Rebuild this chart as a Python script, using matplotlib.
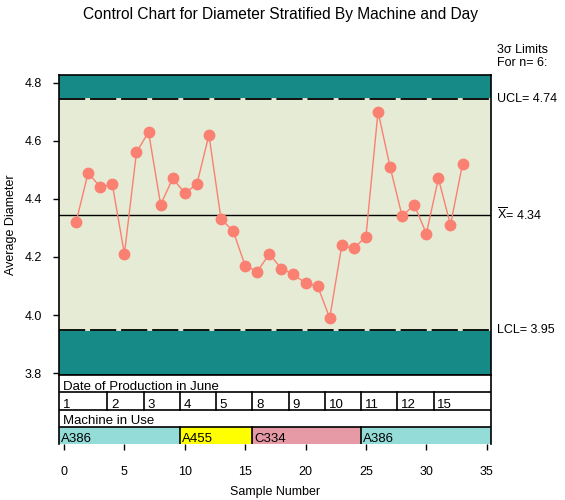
import matplotlib
matplotlib.use('Agg')
import matplotlib.pyplot as plt
import numpy as np

plt.rcParams['font.family'] = ['Liberation Sans', 'DejaVu Sans']
plt.rcParams['mathtext.fontset'] = 'custom'
plt.rcParams['mathtext.rm'] = 'Liberation Sans'

# Mittelwerte je Stichprobe
samples = list(range(1, 34))
diameter = [4.32, 4.49, 4.44, 4.45, 4.21, 4.56, 4.63, 4.38, 4.47, 4.42, 4.45,
            4.62, 4.33, 4.29, 4.17, 4.15, 4.21, 4.16, 4.14, 4.11, 4.10, 3.99,
            4.24, 4.23, 4.27, 4.70, 4.51, 4.34, 4.38, 4.28, 4.47, 4.31, 4.52]

ucl = 4.742
center = 4.344
lcl = 3.948

# Tage (je 3 Stichproben)
days = ['1', '2', '3', '4', '5', '8', '9', '10', '11', '12', '15']
day_counts = [3, 3, 3, 3, 3, 3, 3, 3, 3, 3, 3]

# Maschinen
machines = ['A386', 'A455', 'C334', 'A386']
machine_counts = [9, 6, 9, 9]
machine_colors = {'A386': '#94dcd8', 'A455': '#ffff00', 'C334': '#e59aa6'}

teal = '#158a87'
beige = '#e6ebd5'
salmon = '#fa8072'

W, H = 565, 500
fig = plt.figure(figsize=(W / 100, H / 100), dpi=100)
left, right = 59.3, 491.3
ax = fig.add_axes([left / W, 1 - 375 / H, (right - left) / W, 300 / H])
tax = fig.add_axes([left / W, 1 - 444 / H, (right - left) / W, 69 / H], sharex=ax)

x0, x1 = -0.39, 35.38
ax.set_xlim(x0, x1)
ax.set_ylim(3.794, 4.826)

# Hintergrund
ax.axhspan(ucl, 5, color=teal, lw=0)
ax.axhspan(lcl, ucl, color=beige, lw=0)
ax.axhspan(3, lcl, color=teal, lw=0)

for lim in (ucl, lcl):
    ax.axhline(lim, color=beige, lw=1.3, zorder=2)
    ax.axhline(lim, color='black', lw=1.3, ls=(0, (14.5, 2.7)), zorder=3)
ax.axhline(center, color='black', lw=1.0, zorder=3)

ax.plot(samples, diameter, color=salmon, lw=1.0, marker='o', ms=7.5,
        mec=salmon, mfc=salmon, zorder=4)

ax.set_yticks([3.8, 4.0, 4.2, 4.4, 4.6, 4.8])
ax.set_yticklabels(['3.8', '4.0', '4.2', '4.4', '4.6', '4.8'])
ax.tick_params(axis='y', direction='out', length=4.5, width=1, pad=8, labelsize=9)
ax.tick_params(axis='x', bottom=False, labelbottom=False)
for s in ax.spines.values():
    s.set_linewidth(1.2)
ax.set_ylabel('Average Diameter', fontsize=9)
ax.yaxis.set_label_coords(-0.097, 0.5)

# Beschriftungen rechts
tx = 1 + 6 / (right - left)
ax.text(tx, ucl, 'UCL= %.2f' % ucl, transform=ax.get_yaxis_transform(),
        va='center', ha='left', fontsize=9, clip_on=False)
ax.text(tx, center, r'$\overline{\mathrm{X}}$= %.2f' % center,
        transform=ax.get_yaxis_transform(), va='center', ha='left', fontsize=9,
        clip_on=False)
ax.text(tx, lcl, 'LCL= %.2f' % lcl, transform=ax.get_yaxis_transform(),
        va='center', ha='left', fontsize=9, clip_on=False)
fig.text(497 / W, 1 - 50 / H, '3σ Limits', fontsize=9, va='center', ha='left')
fig.text(497 / W, 1 - 63 / H, 'For n= 6:', fontsize=9, va='center', ha='left')

fig.text(280.5 / W, 1 - 15 / H,
         'Control Chart for Diameter Stratified By Machine and Day',
         fontsize=11.2, ha='center', va='center')

# Tabelle unten
tax.set_ylim(0, 4)
for yy in (1, 2, 3):
    tax.axhline(yy, color='black', lw=1.2)
tax.text(x0 + 0.3, 3.15, 'Date of Production in June', fontsize=9.5, va='baseline')
tax.text(x0 + 0.3, 1.15, 'Machine in Use', fontsize=9.5, va='baseline')

bounds = np.concatenate([[x0], np.cumsum(day_counts)[:-1] + 0.6, [x1]])
for i, d in enumerate(days):
    if i > 0:
        tax.plot([bounds[i]] * 2, [2, 3], color='black', lw=1.2)
    tax.text(bounds[i] + 0.3, 2.1, d, fontsize=9.5, va='baseline')

mb = np.concatenate([[x0], np.cumsum(machine_counts)[:-1] + 0.6, [x1]])
for i, m in enumerate(machines):
    tax.fill_between([mb[i], mb[i + 1]], 0, 1, color=machine_colors[m], lw=0)
    if i > 0:
        tax.plot([mb[i]] * 2, [0, 1], color='black', lw=1.2)
    tax.text(mb[i] + 0.15, 0.1, m, fontsize=9.5, va='baseline')

tax.set_yticks([])
tax.set_xticks([0, 5, 10, 15, 20, 25, 30, 35])
tax.set_xticklabels(['0', '5', '10', '15', '20', '25', '30', '35'])
tax.tick_params(axis='x', direction='out', length=4.5, width=1, pad=11, labelsize=9)
for s in tax.spines.values():
    s.set_linewidth(1.2)
tax.spines['bottom'].set_visible(False)
tax.set_xlabel('Sample Number', fontsize=9, labelpad=6)

fig.savefig('out.png', dpi=100)
